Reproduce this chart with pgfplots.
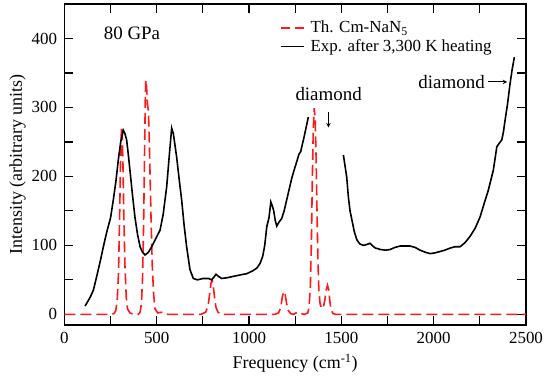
\documentclass[border=0pt]{standalone}
\usepackage{pgfplots}
\pgfplotsset{compat=1.18}
\usepackage{fontspec}
\setmainfont{Liberation Serif}
\begin{document}
\fontsize{17}{20}\selectfont
\begin{tikzpicture}
\begin{axis}[
  name=ax,
  scale only axis,
  width=461.6bp, height=321bp,
  xmin=0, xmax=2500, ymin=-15.5, ymax=450,
  xtick={0,500,1000,1500,2000,2500},
  ytick={0,100,200,300,400},
  minor xtick={250,750,1250,1750,2250},
  minor ytick={50,150,250,350},
  tick align=inside,
  major tick length=9bp, minor tick length=9bp,
  every tick/.style={line width=1.2bp, black},
  axis line style={line width=1.6bp},
  /pgf/number format/assume math mode=true,
  /pgf/number format/1000 sep={},
  xticklabel style={inner xsep=0pt, yshift=-1bp},
  yticklabel style={xshift=-1.5bp},
  xlabel={Frequency (cm\textsuperscript{-1})},
  ylabel={Intensity (arbitrary units)},
  xlabel style={font=\fontsize{18}{20}\selectfont, at={(axis description cs:0.5,-0.137)}, anchor=base},
  ylabel style={font=\fontsize{18}{20}\selectfont, at={(axis description cs:-0.1016,0.5)}, anchor=center},
  legend cell align=left,
  legend style={draw=none, fill=none, at={(rel axis cs:0.46,0.96)}, anchor=north west, row sep=0bp, column sep=4bp},
  legend image code/.code={\draw[#1] (0bp,0bp) -- (23bp,0bp);},
]
\addplot[red!90!white, line width=1.6bp, dash pattern=on 11bp off 5bp,
  legend image code/.code={\draw[red!90!white, line width=1.6bp, dash pattern=on 9bp off 5bp] (0bp,0bp) -- (23bp,0bp);}] coordinates {
(0,0) (250,0) (268,1) (278,5) (286,20) (293,60) (299,140) (304,220) (309,270) (312,272) (317,220) (322,140) (328,70) (335,25) (342,8) (355,2) (375,0) (400,0) (410,3) (417,15) (423,50) (429,130) (434,230) (438,310) (441,340) (445,330) (450,305) (455,295) (460,250) (465,190) (470,130) (476,70) (483,30) (491,8) (505,2) (525,3) (540,1) (560,0) (740,0) (765,3) (778,12) (787,30) (794,45) (800,50) (806,42) (813,25) (821,10) (832,3) (850,0) (1140,0) (1160,2) (1172,10) (1180,25) (1188,33) (1196,28) (1204,15) (1212,6) (1225,1) (1240,0) (1255,2) (1268,3) (1282,1) (1300,0) (1318,2) (1325,10) (1332,40) (1338,110) (1343,200) (1348,270) (1353,299) (1358,285) (1363,230) (1368,150) (1373,80) (1378,35) (1385,15) (1393,8) (1402,10) (1410,20) (1418,35) (1425,42) (1432,35) (1438,18) (1445,6) (1455,1) (1470,0) (2500,0)
};
\addlegendentry{Th. Cm-NaN\textsubscript{5}}
\addplot[black, line width=1.6bp] coordinates {
(112,12) (125,18) (140,25) (157,35) (175,55) (195,78) (211,98) (230,120) (250,140) (265,166) (280,195) (292,224) (305,250) (319,267) (328,262) (337,253) (346,232) (355,209) (368,175) (382,141) (396,116) (410,98) (423,90) (437,86) (455,90) (473,98) (495,110) (518,122) (535,145) (554,185) (568,230) (581,270) (590,262) (599,245) (608,228) (621,197) (635,166) (648,130) (662,98) (680,65) (698,52) (720,50) (752,52) (780,52) (798,50) (810,54) (821,58) (835,55) (852,52) (880,53) (915,55) (950,57) (988,59) (1020,63) (1042,67) (1060,74) (1074,84) (1085,100) (1096,127) (1108,140) (1118,163) (1125,158) (1133,151) (1142,136) (1150,128) (1163,134) (1177,139) (1190,150) (1204,166) (1218,182) (1231,197) (1245,210) (1258,221) (1270,232) (1280,236) (1290,248) (1298,257) (1310,272) (1321,286)
};
\addlegendentry{Exp. after 3,300 K heating}
\addplot[black, line width=1.6bp, forget plot] coordinates {
(1511,231) (1520,215) (1529,199) (1538,170) (1547,150) (1557,137) (1570,120) (1584,108) (1600,102) (1619,100) (1635,101) (1655,103) (1670,99) (1685,96) (1700,95) (1710,94) (1740,93) (1764,94) (1790,97) (1818,99) (1845,99) (1872,99) (1900,97) (1926,93) (1955,90) (1980,88) (2005,89) (2034,91) (2060,93) (2089,96) (2115,98) (2143,98) (2170,104) (2197,113) (2225,125) (2251,141) (2275,162) (2296,180) (2310,195) (2323,209) (2332,225) (2342,243) (2355,248) (2369,253) (2378,265) (2387,282) (2400,305) (2414,335) (2425,355) (2437,373)
};
\node[font=\fontsize{19}{22}\selectfont] at (axis cs:366,408) {80 GPa};
\node[font=\fontsize{19}{22}\selectfont] at (axis cs:1431,319) {diamond};
\draw[-stealth, line width=1bp] (axis cs:1430,294) -- (axis cs:1430,271);
\node[font=\fontsize{19}{22}\selectfont] at (axis cs:2097,337) {diamond};
\draw[-stealth, line width=1bp] (axis cs:2295,337) -- (axis cs:2398,337);
\end{axis}
\pgfresetboundingbox
\path[use as bounding box] ([xshift=-64.4bp,yshift=-52bp]ax.south west) rectangle ([xshift=18bp,yshift=4bp]ax.north east);
\end{tikzpicture}
\end{document}
